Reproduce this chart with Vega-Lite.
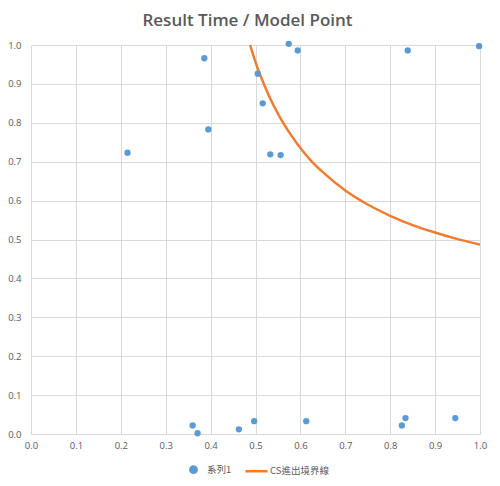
{
  "$schema": "https://vega.github.io/schema/vega-lite/v6.json",
  "autosize": {"type": "none"},
  "padding": {"left": 31, "top": 45, "right": 20, "bottom": 52},
  "width": 449,
  "height": 389,
  "background": "white",
  "title": {
    "text": "Result Time / Model Point",
    "fontSize": 17,
    "font": "Open Sans",
    "fontWeight": 600,
    "color": "#595959",
    "anchor": "middle",
    "offset": 10,
    "dx": -8
  },
  "datasets": {
    "points": [
      {"x": 0.215, "y": 0.723, "series": "系列1"},
      {"x": 0.386, "y": 0.966, "series": "系列1"},
      {"x": 0.395, "y": 0.783, "series": "系列1"},
      {"x": 0.505, "y": 0.926, "series": "系列1"},
      {"x": 0.516, "y": 0.850, "series": "系列1"},
      {"x": 0.533, "y": 0.719, "series": "系列1"},
      {"x": 0.556, "y": 0.717, "series": "系列1"},
      {"x": 0.574, "y": 1.003, "series": "系列1"},
      {"x": 0.594, "y": 0.986, "series": "系列1"},
      {"x": 0.839, "y": 0.986, "series": "系列1"},
      {"x": 0.998, "y": 0.997, "series": "系列1"},
      {"x": 0.360, "y": 0.022, "series": "系列1"},
      {"x": 0.371, "y": 0.002, "series": "系列1"},
      {"x": 0.463, "y": 0.012, "series": "系列1"},
      {"x": 0.497, "y": 0.033, "series": "系列1"},
      {"x": 0.613, "y": 0.033, "series": "系列1"},
      {"x": 0.826, "y": 0.022, "series": "系列1"},
      {"x": 0.834, "y": 0.041, "series": "系列1"},
      {"x": 0.945, "y": 0.041, "series": "系列1"}
    ],
    "curve": [
      {"x": 0.488, "y": 1.0, "series": "CS進出境界線"},
      {"x": 0.5, "y": 0.956, "series": "CS進出境界線"},
      {"x": 0.52, "y": 0.896, "series": "CS進出境界線"},
      {"x": 0.54, "y": 0.845, "series": "CS進出境界線"},
      {"x": 0.56, "y": 0.803, "series": "CS進出境界線"},
      {"x": 0.58, "y": 0.767, "series": "CS進出境界線"},
      {"x": 0.6, "y": 0.735, "series": "CS進出境界線"},
      {"x": 0.625, "y": 0.701, "series": "CS進出境界線"},
      {"x": 0.65, "y": 0.673, "series": "CS進出境界線"},
      {"x": 0.7, "y": 0.626, "series": "CS進出境界線"},
      {"x": 0.75, "y": 0.59, "series": "CS進出境界線"},
      {"x": 0.8, "y": 0.561, "series": "CS進出境界線"},
      {"x": 0.85, "y": 0.537, "series": "CS進出境界線"},
      {"x": 0.9, "y": 0.518, "series": "CS進出境界線"},
      {"x": 0.95, "y": 0.501, "series": "CS進出境界線"},
      {"x": 1.0, "y": 0.487, "series": "CS進出境界線"}
    ]
  },
  "encoding": {
    "x": {
      "field": "x", "type": "quantitative",
      "scale": {"domain": [0, 1], "nice": false, "zero": false},
      "axis": {
        "title": null, "values": [0,0.1,0.2,0.3,0.4,0.5,0.6,0.7,0.8,0.9,1.0],
        "format": ".1f", "ticks": false, "domainColor": "#D9D9D9",
        "gridColor": "#D9D9D9", "labelColor": "#595959", "labelFontSize": 9.5,
        "labelFont": "Open Sans", "labelPadding": 6, "labelFlush": false, "labelOverlap": false
      }
    },
    "y": {
      "field": "y", "type": "quantitative",
      "scale": {"domain": [0, 1], "nice": false, "zero": false},
      "axis": {
        "title": null, "values": [0,0.1,0.2,0.3,0.4,0.5,0.6,0.7,0.8,0.9,1.0],
        "format": ".1f", "ticks": false, "domain": false,
        "gridColor": "#D9D9D9", "labelColor": "#595959", "labelFontSize": 9.5,
        "labelFont": "Open Sans", "labelPadding": 10, "labelFlush": false, "labelOverlap": false
      }
    },
    "color": {
      "field": "series", "type": "nominal",
      "scale": {"domain": ["系列1", "CS進出境界線"], "range": ["#5B9BD5", "#ED7D31"]},
      "legend": {
        "title": null, "orient": "none", "direction": "horizontal",
        "legendX": 150, "legendY": 412,
        "labelFont": "Noto Sans CJK TC", "labelFontSize": 9.5, "labelColor": "#595959",
        "columnPadding": 8, "symbolOffset": 0, "labelOffset": 1,
        "encode": {
          "symbols": {
            "update": {
              "shape": {"signal": "datum.value === '系列1' ? 'circle' : 'stroke'"},
              "size": {"signal": "datum.value === '系列1' ? 40 : 484"},
              "fill": {"signal": "datum.value === '系列1' ? '#5B9BD5' : 'transparent'"},
              "stroke": {"signal": "datum.value === '系列1' ? 'transparent' : '#ED7D31'"},
              "strokeWidth": {"value": 2.5},
              "opacity": {"value": 1}
            }
          }
        }
      }
    }
  },
  "layer": [
    {
      "data": {"name": "curve"},
      "mark": {"type": "line", "strokeWidth": 2.5, "interpolate": "monotone", "clip": true},
      "encoding": {"order": {"field": "x", "type": "quantitative"}}
    },
    {
      "data": {"name": "points"},
      "mark": {"type": "circle", "size": 40, "opacity": 1}
    }
  ],
  "config": {"view": {"stroke": null}}
}
